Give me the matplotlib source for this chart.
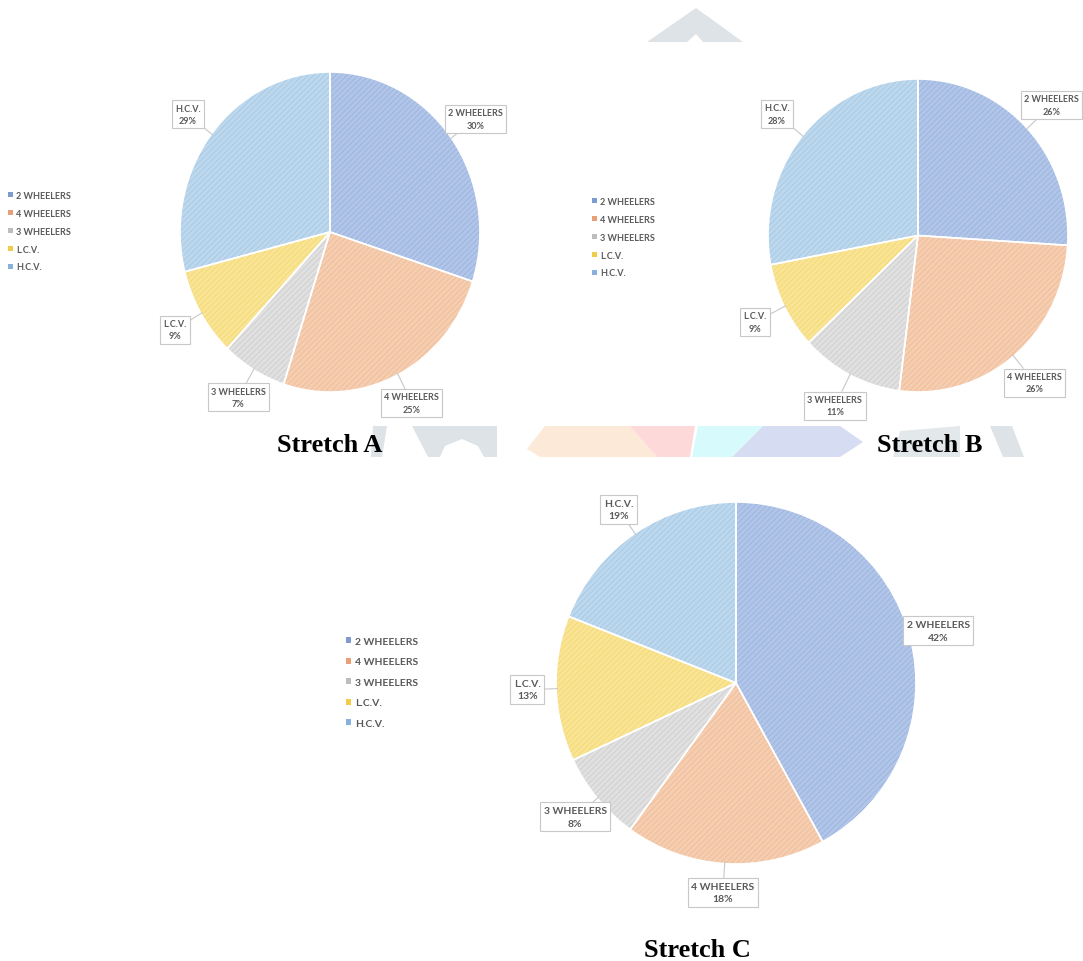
import numpy as np
import matplotlib
matplotlib.use("Agg")
import matplotlib.pyplot as plt
from matplotlib.patches import Patch, Polygon

categories = ["2 WHEELERS", "4 WHEELERS", "3 WHEELERS", "L.C.V.", "H.C.V."]
stretch_a = [30, 25, 7, 9, 29]
stretch_b = [26, 26, 11, 9, 28]
stretch_c = [42, 18, 8, 13, 19]
titles = ["Stretch A", "Stretch B", "Stretch C"]

face_colors = ["#b0c5e8", "#f5cdb0", "#e0e0e0", "#f9e496", "#bdd8ed"]
hatch_colors = ["#97afdc", "#eeb893", "#cacaca", "#f2d768", "#9fc5e5"]
legend_colors = ["#7d9bd2", "#e9a077", "#bdbdbd", "#f1cc48", "#86b2dd"]

W, H = 1083, 962
plt.rcParams["hatch.linewidth"] = 0.5

fig = plt.figure(figsize=(W / 100, H / 100), dpi=100)
fig.patch.set_facecolor("white")


def px(x, y):
    return (x / W, 1 - y / H)


def rect(left, top, width, height):
    return [left / W, 1 - (top + height) / H, width / W, height / H]


# faint watermark behind the charts
wm = [
    ([(647, 43), (696, 9), (743, 43), (703, 43), (696, 35), (687, 43)], "#dde3e6"),
    ([(373, 427), (387, 427), (382, 458), (371, 458)], "#dde3e6"),
    ([(412, 427), (497, 427), (497, 458), (484, 458), (478, 447), (462, 440), (445, 447),
      (440, 458), (428, 458)], "#dde3e6"),
    ([(545, 427), (630, 427), (657, 458), (540, 458), (527, 450)], "#fde9d7"),
    ([(630, 427), (695, 427), (690, 458), (657, 458)], "#fdd9da"),
    ([(698, 427), (763, 427), (732, 458), (692, 458)], "#d7fbfc"),
    ([(763, 427), (840, 427), (863, 443), (840, 458), (732, 458)], "#d6ddf3"),
    ([(900, 432), (960, 427), (960, 458), (893, 458)], "#e3e8ea"),
    ([(990, 427), (1012, 427), (1024, 458), (1003, 458)], "#dde3e6"),
]
for pts, col in wm:
    fig.patches.append(Polygon([px(*p) for p in pts], closed=True, transform=fig.transFigure,
                               facecolor=col, edgecolor="none", zorder=-5))

label_font = dict(family=["Lato", "DejaVu Sans"], weight="bold", color="#595959")


def draw_pie(ax, values, fs, dist):
    wedges, _ = ax.pie(values, startangle=90, counterclock=False, colors=face_colors,
                       wedgeprops=dict(linewidth=0))
    for w, hc in zip(wedges, hatch_colors):
        w.set_hatch("//////")
        w.set_edgecolor(hc)
    ax.pie(values, startangle=90, counterclock=False,
           wedgeprops=dict(fill=False, edgecolor="white", linewidth=1.2))
    ax.set_aspect("auto")
    ax.set_xlim(-1, 1)
    ax.set_ylim(-1, 1)
    for w, cat, v in zip(wedges, categories, values):
        mid = np.deg2rad((w.theta1 + w.theta2) / 2)
        ax.annotate(f"{cat}\n{v}%", xy=(0.99 * np.cos(mid), 0.99 * np.sin(mid)),
                    xytext=(dist * np.cos(mid), dist * np.sin(mid)),
                    ha="center", va="center", fontsize=fs, linespacing=1.5,
                    bbox=dict(boxstyle="square,pad=0.35", fc="white", ec="#c8c8c8", lw=0.8),
                    arrowprops=dict(arrowstyle="-", color="#c8c8c8", lw=0.8,
                                    shrinkA=0, shrinkB=0),
                    annotation_clip=False, **label_font)
    return wedges


def draw_legend(ax, x, y, fs, spacing):
    handles = [Patch(facecolor=c, edgecolor="none") for c in legend_colors]
    ax.legend(handles, categories, loc="upper left", bbox_to_anchor=px(x, y),
              bbox_transform=fig.transFigure, frameon=False, borderpad=0,
              borderaxespad=0, handlelength=0.5, handleheight=0.5, handletextpad=0.4,
              labelspacing=spacing, prop=dict(family=["Lato", "DejaVu Sans"],
                                              weight="bold", size=fs),
              labelcolor="#595959")


ax_a = fig.add_axes(rect(180, 73, 300, 320))
draw_pie(ax_a, stretch_a, 6.5, 1.2)
draw_legend(ax_a, 8, 192, 6.5, 0.98)

ax_b = fig.add_axes(rect(768, 80, 300, 313))
draw_pie(ax_b, stretch_b, 6.5, 1.22)
draw_legend(ax_b, 592, 198, 6.5, 0.98)

ax_c = fig.add_axes(rect(556, 503, 360, 362))
draw_pie(ax_c, stretch_c, 7.5, 1.16)
draw_legend(ax_c, 346, 638, 7.5, 1.1)

title_font = dict(family=["Liberation Serif", "DejaVu Serif"], weight="bold", size=19,
                  ha="center", va="baseline", color="black")
fig.text(*px(330, 452), titles[0], **title_font)
fig.text(*px(930, 452), titles[1], **title_font)
fig.text(*px(697, 957), titles[2], **title_font)

fig.savefig("out.png", dpi=100, facecolor="white")
